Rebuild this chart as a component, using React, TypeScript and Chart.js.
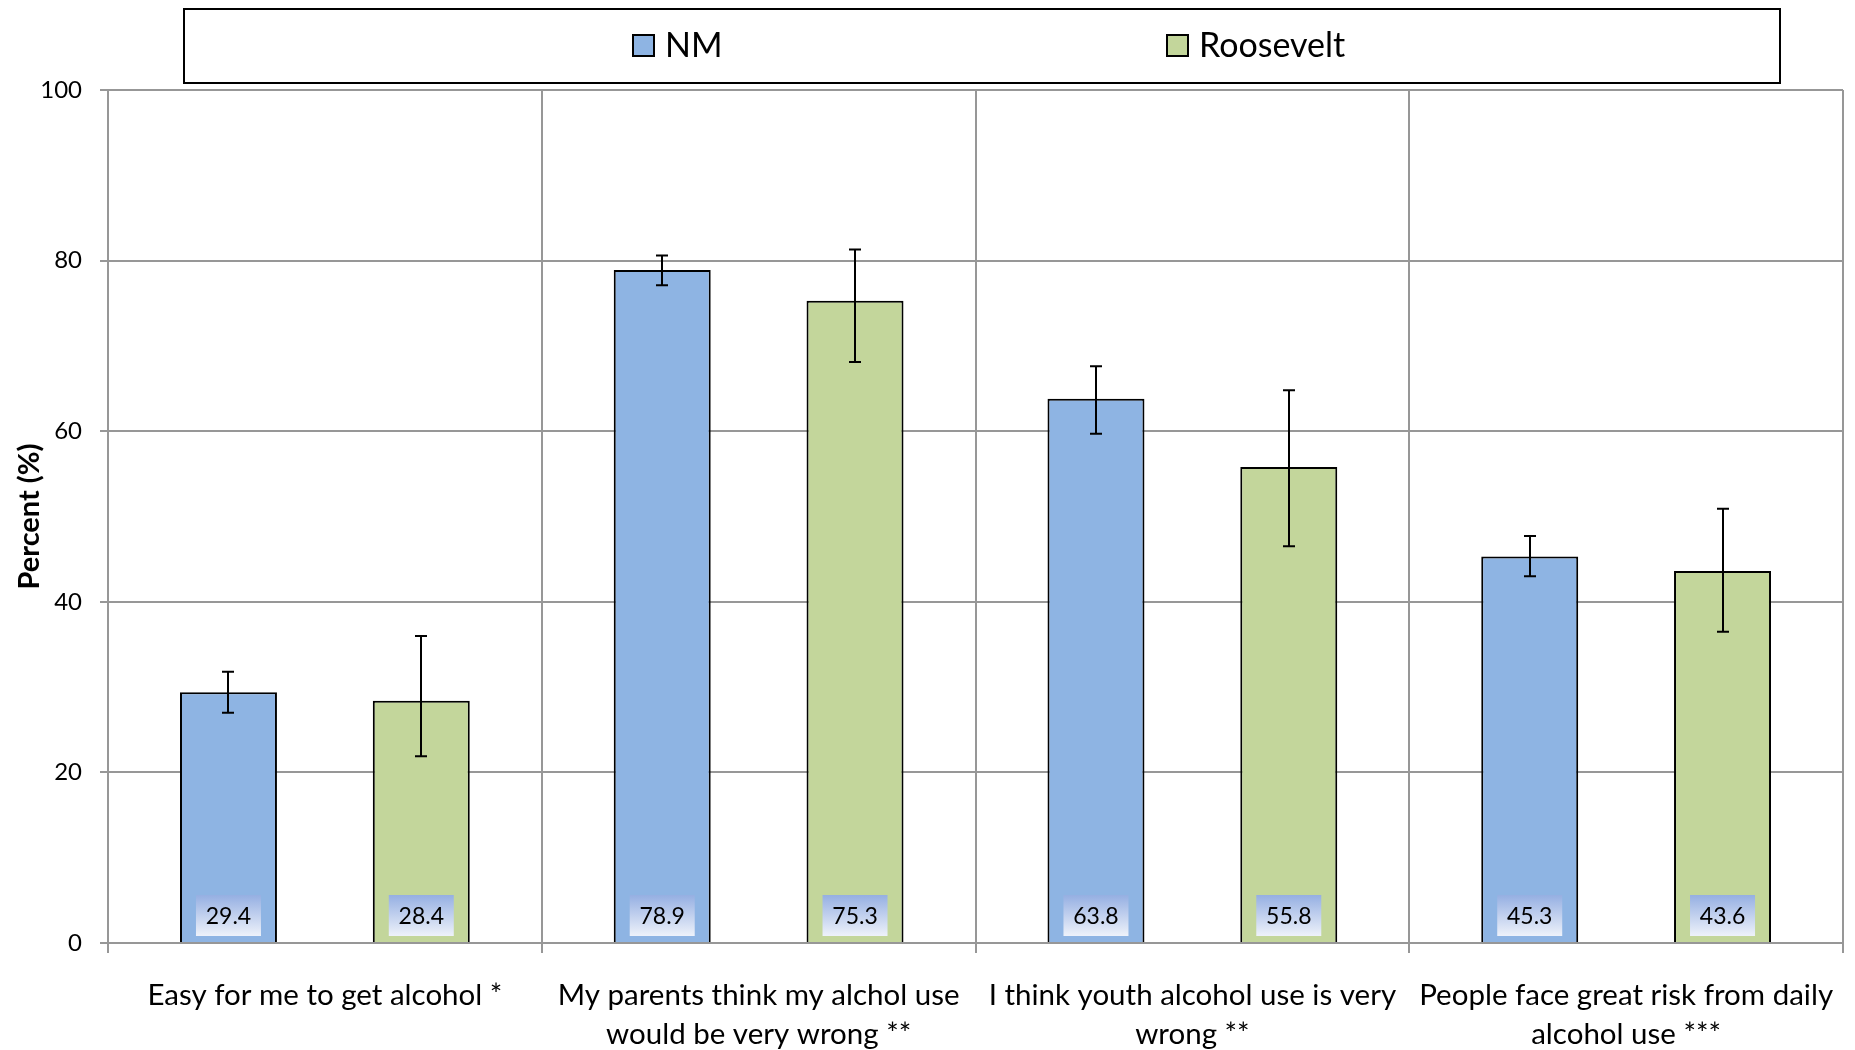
import React, { useEffect, useRef } from 'react';
import { Chart, registerables } from 'chart.js';

Chart.register(...registerables);

// ---------- data ----------
const categories: string[][] = [
  ['Easy for me to get alcohol *'],
  ['My parents think my alchol use', 'would be very wrong **'],
  ['I think youth alcohol use is very', 'wrong **'],
  ['People face great risk from daily', 'alcohol use ***'],
];
const seriesNames = ['NM', 'Roosevelt'];
const nmValues = [29.4, 78.9, 63.8, 45.3];
const rooseveltValues = [28.4, 75.3, 55.8, 43.6];
const nmLower = [27.0, 77.1, 59.7, 43.0];
const nmUpper = [31.8, 80.6, 67.6, 47.7];
const rooseveltLower = [21.9, 68.1, 46.5, 36.5];
const rooseveltUpper = [36.0, 81.3, 64.8, 50.9];
const yTicks = [0, 20, 40, 60, 80, 100];

// ---------- styles ----------
const FONT = 'Lato, "Open Sans", sans-serif';
const GRID = '#979797';
const NM_FILL = '#8EB4E3';
const ROOSEVELT_FILL = '#C3D69B';

const lowers = [nmLower, rooseveltLower];
const uppers = [nmUpper, rooseveltUpper];

const errorBarPlugin = {
  id: 'errorBars',
  afterDatasetsDraw(chart: any) {
    const ctx = chart.ctx;
    const yScale = chart.scales.y;
    ctx.save();
    ctx.strokeStyle = '#000';
    ctx.lineWidth = 2;
    chart.data.datasets.forEach((_ds: any, i: number) => {
      const meta = chart.getDatasetMeta(i);
      meta.data.forEach((el: any, j: number) => {
        const x = Math.round(el.x);
        const yt = yScale.getPixelForValue(uppers[i][j]);
        const yb = yScale.getPixelForValue(lowers[i][j]);
        ctx.beginPath();
        ctx.moveTo(x, yt);
        ctx.lineTo(x, yb);
        ctx.moveTo(x - 6, yt);
        ctx.lineTo(x + 6, yt);
        ctx.moveTo(x - 6, yb);
        ctx.lineTo(x + 6, yb);
        ctx.stroke();
      });
    });
    ctx.restore();
  },
};

const valueLabelPlugin = {
  id: 'valueLabels',
  afterDatasetsDraw(chart: any) {
    const ctx = chart.ctx;
    const yScale = chart.scales.y;
    const base = yScale.getPixelForValue(0);
    ctx.save();
    chart.data.datasets.forEach((ds: any, i: number) => {
      const meta = chart.getDatasetMeta(i);
      meta.data.forEach((el: any, j: number) => {
        const w = 65;
        const h = 41;
        const x0 = el.x - w / 2;
        const y1 = base - 7;
        const y0 = y1 - h;
        const g = ctx.createLinearGradient(0, y0, 0, y1);
        g.addColorStop(0, '#95AFE2');
        g.addColorStop(1, '#EEF2FA');
        ctx.fillStyle = g;
        ctx.fillRect(x0, y0, w, h);
        ctx.fillStyle = '#000';
        ctx.font = `23px ${FONT}`;
        ctx.textAlign = 'center';
        ctx.textBaseline = 'middle';
        ctx.fillText(ds.data[j].toFixed(1), el.x, y0 + h / 2 + 1);
      });
    });
    ctx.restore();
  },
};

const boxLegendPlugin = {
  id: 'boxLegend',
  afterDraw(chart: any) {
    const ctx = chart.ctx;
    ctx.save();
    ctx.strokeStyle = '#000';
    ctx.lineWidth = 2;
    ctx.strokeRect(184, 9, 1596, 74);
    const items = [
      { box: 633, text: 665 },
      { box: 1167, text: 1199 },
    ];
    chart.data.datasets.forEach((ds: any, i: number) => {
      const it = items[i];
      ctx.fillStyle = ds.backgroundColor;
      ctx.fillRect(it.box, 35, 21, 21);
      ctx.strokeStyle = '#000';
      ctx.lineWidth = 2;
      ctx.strokeRect(it.box, 35, 21, 21);
      ctx.fillStyle = '#000';
      ctx.font = `34px ${FONT}`;
      ctx.textAlign = 'left';
      ctx.textBaseline = 'middle';
      ctx.fillText(ds.label, it.text, 46);
    });
    ctx.restore();
  },
};

export default function App() {
  const ref = useRef<HTMLCanvasElement | null>(null);

  useEffect(() => {
    if (!ref.current) return;
    const chart = new Chart(ref.current, {
      type: 'bar',
      data: {
        labels: categories,
        datasets: [
          {
            label: seriesNames[0],
            data: nmValues,
            backgroundColor: NM_FILL,
            borderColor: '#000',
            borderWidth: 2,
          },
          {
            label: seriesNames[1],
            data: rooseveltValues,
            backgroundColor: ROOSEVELT_FILL,
            borderColor: '#000',
            borderWidth: 2,
          },
        ],
      },
      options: {
        responsive: false,
        animation: false,
        devicePixelRatio: 1,
        layout: { padding: { top: 90, right: 12, left: 0, bottom: 0 } },
        datasets: { bar: { categoryPercentage: 0.889, barPercentage: 0.503 } },
        plugins: {
          legend: { display: false },
          tooltip: { enabled: false },
        },
        scales: {
          x: {
            grid: { offset: true, color: GRID, lineWidth: 2, tickLength: 10 },
            border: { color: GRID, width: 2 },
            ticks: {
              color: '#000',
              font: { family: FONT, size: 29.5, lineHeight: 1.32 },
              padding: 23,
              maxRotation: 0,
              minRotation: 0,
              autoSkip: false,
            },
            afterFit: (s: any) => {
              s.height = 107;
              s.paddingLeft = 0;
              s.paddingRight = 0;
            },
          },
          y: {
            min: 0,
            max: 100,
            afterBuildTicks: (s: any) => {
              s.ticks = yTicks.map((v) => ({ value: v }));
            },
            grid: { color: GRID, lineWidth: 2, tickLength: 8 },
            border: { color: GRID, width: 2 },
            ticks: {
              color: '#000',
              font: { family: FONT, size: 24 },
              padding: 18,
            },
            title: {
              display: true,
              text: 'Percent (%)',
              color: '#000',
              font: { family: FONT, size: 29, weight: 'bold' },
              padding: { top: 12, bottom: 0 },
            },
            afterFit: (s: any) => {
              s.width = 108;
              s.paddingTop = 0;
              s.paddingBottom = 0;
            },
          },
        },
      },
      plugins: [valueLabelPlugin, errorBarPlugin, boxLegendPlugin],
    } as any);
    return () => chart.destroy();
  }, []);

  return (
    <div style={{ position: 'absolute', left: 0, top: 0, width: 1855, height: 1050, background: '#fff' }}>
      <canvas ref={ref} width={1855} height={1050} style={{ display: 'block' }} />
    </div>
  );
}
